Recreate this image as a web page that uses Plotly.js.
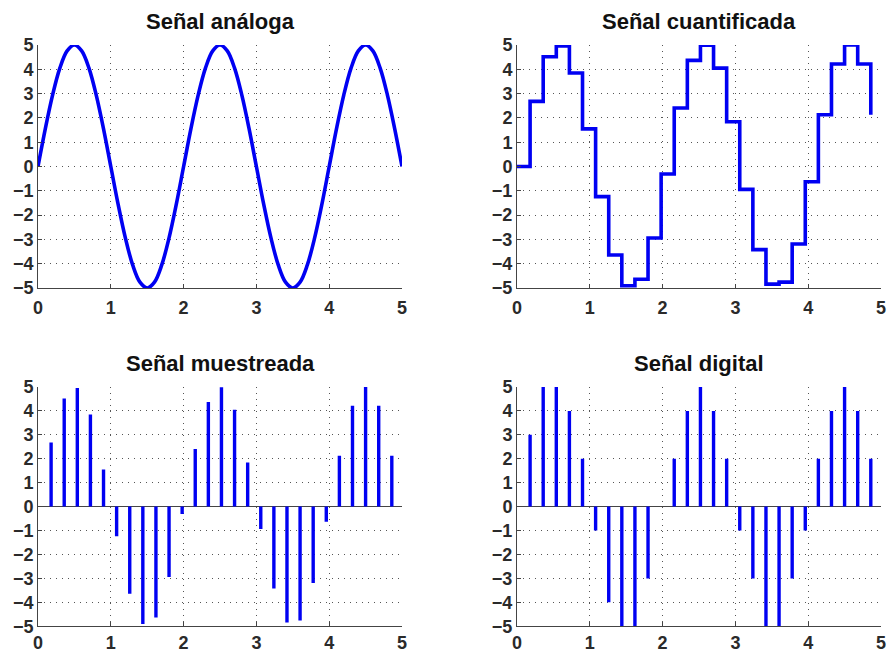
<!DOCTYPE html>
<html>
<head>
<meta charset="utf-8">
<script src="https://cdn.plot.ly/plotly-3.0.1.min.js"></script>
<style>
  html, body { margin: 0; padding: 0; background: #fff; }
  #chart { width: 888px; height: 653px; }
</style>
</head>
<body>
<div id="chart"></div>
<script>
// Continuous signal, read every 0.1 s
const tAnalog = [0,0.1,0.2,0.3,0.4,0.5,0.6,0.7,0.8,0.9,1.0,1.1,1.2,1.3,1.4,1.5,1.6,1.7,1.8,1.9,2.0,
  2.1,2.2,2.3,2.4,2.5,2.6,2.7,2.8,2.9,3.0,3.1,3.2,3.3,3.4,3.5,3.6,3.7,3.8,3.9,4.0,
  4.1,4.2,4.3,4.4,4.5,4.6,4.7,4.8,4.9,5.0];
const analog = [0,1.55,2.94,4.05,4.76,5,4.76,4.05,2.94,1.55,0,-1.55,-2.94,-4.05,-4.76,-5,-4.76,-4.05,-2.94,-1.55,0,
  1.55,2.94,4.05,4.76,5,4.76,4.05,2.94,1.55,0,-1.55,-2.94,-4.05,-4.76,-5,-4.76,-4.05,-2.94,-1.55,0,
  1.55,2.94,4.05,4.76,5,4.76,4.05,2.94,1.55,0];

// Sampling instants and sampled values
const tSample = [0,0.18,0.36,0.54,0.72,0.9,1.08,1.26,1.44,1.62,1.8,1.98,2.16,2.34,2.52,2.7,
  2.88,3.06,3.24,3.42,3.6,3.78,3.96,4.14,4.32,4.5,4.68,4.86];
const sampled = [0,2.68,4.52,4.96,3.85,1.55,-1.24,-3.64,-4.91,-4.64,-2.94,-0.31,2.41,4.37,4.99,4.05,
  1.84,-0.94,-3.42,-4.84,-4.76,-3.19,-0.63,2.13,4.22,5.00,4.22,2.13];
// Rounded (digital) levels
const digital = [0,3,5,5,4,2,-1,-4,-5,-5,-3,0,2,4,5,4,2,-1,-3,-5,-5,-3,-1,2,4,5,4,2];

const titles = ['Señal análoga', 'Señal cuantificada', 'Señal muestreada', 'Señal digital'];
const tickVals = [-5,-4,-3,-2,-1,0,1,2,3,4,5];
const xTickVals = [0,1,2,3,4,5];

const BLUE = '#0000f2';
const FONT = 'Liberation Sans, Arial, Helvetica, sans-serif';

// Stem segments (vertical lines from 0 to the value), separated by nulls
function stems(t, v) {
  const x = [], y = [];
  t.forEach((ti, i) => { x.push(ti, ti, null); y.push(0, v[i], null); });
  return { x, y };
}

const sSampled = stems(tSample, sampled);
const sDigital = stems(tSample, digital);

const traces = [
  { x: tAnalog, y: analog, xaxis: 'x', yaxis: 'y', mode: 'lines',
    line: { color: BLUE, width: 3.6, shape: 'spline', smoothing: 1 } },
  { x: tSample, y: sampled, xaxis: 'x2', yaxis: 'y2', mode: 'lines',
    line: { color: BLUE, width: 3.6, shape: 'hv' } },
  { x: sSampled.x, y: sSampled.y, xaxis: 'x3', yaxis: 'y3', mode: 'lines',
    line: { color: BLUE, width: 3.4 }, connectgaps: false },
  { x: sDigital.x, y: sDigital.y, xaxis: 'x4', yaxis: 'y4', mode: 'lines',
    line: { color: BLUE, width: 3.4 }, connectgaps: false }
];

const tickFont = { family: FONT, size: 18, color: '#2a2a2a', weight: 'bold' };

function xa(domain, anchor, standoff) {
  return {
    domain, anchor, range: [0, 5], tickvals: xTickVals,
    showgrid: true, gridcolor: '#555', griddash: '1px,5px', gridwidth: 1,
    zeroline: false, showline: true, linecolor: '#444', linewidth: 1,
    ticks: 'inside', ticklen: 4, tickcolor: '#444', ticklabelstandoff: standoff,
    tickfont: tickFont, fixedrange: true
  };
}
function ya(domain, anchor, zero) {
  return {
    domain, anchor, range: [-5, 5], tickvals: tickVals,
    showgrid: true, gridcolor: '#555', griddash: '1px,5px', gridwidth: 1,
    zeroline: zero, zerolinecolor: '#444', zerolinewidth: 1,
    showline: true, linecolor: '#444', linewidth: 1,
    ticks: 'inside', ticklen: 4, tickcolor: '#444',
    tickfont: tickFont, fixedrange: true
  };
}

const xL = [0.0428, 0.4527], xR = [0.5822, 0.9921];
const yT = [0.559, 0.931], yB = [0.041, 0.4074];

const axisRefs = [['x', 'y'], ['x2', 'y2'], ['x3', 'y3'], ['x4', 'y4']];
const annotations = titles.map((txt, i) => ({
  text: '<b>' + txt + '</b>', showarrow: false,
  xref: axisRefs[i][0] + ' domain', yref: axisRefs[i][1] + ' domain',
  x: 0.5, y: 1, xanchor: 'center', yanchor: 'bottom', yshift: 9,
  font: { family: FONT, size: 22, color: '#111' }
}));

const layout = {
  width: 888, height: 653,
  margin: { l: 0, r: 0, t: 0, b: 0 },
  paper_bgcolor: '#fff', plot_bgcolor: '#fff',
  showlegend: false,
  xaxis: xa(xL, 'y', 3), yaxis: ya(yT, 'x', false),
  xaxis2: xa(xR, 'y2', 3), yaxis2: ya(yT, 'x2', false),
  xaxis3: xa(xL, 'y3', 0), yaxis3: ya(yB, 'x3', true),
  xaxis4: xa(xR, 'y4', 0), yaxis4: ya(yB, 'x4', true),
  annotations
};

Plotly.newPlot('chart', traces, layout, { staticPlot: true, displayModeBar: false });
</script>
</body>
</html>
